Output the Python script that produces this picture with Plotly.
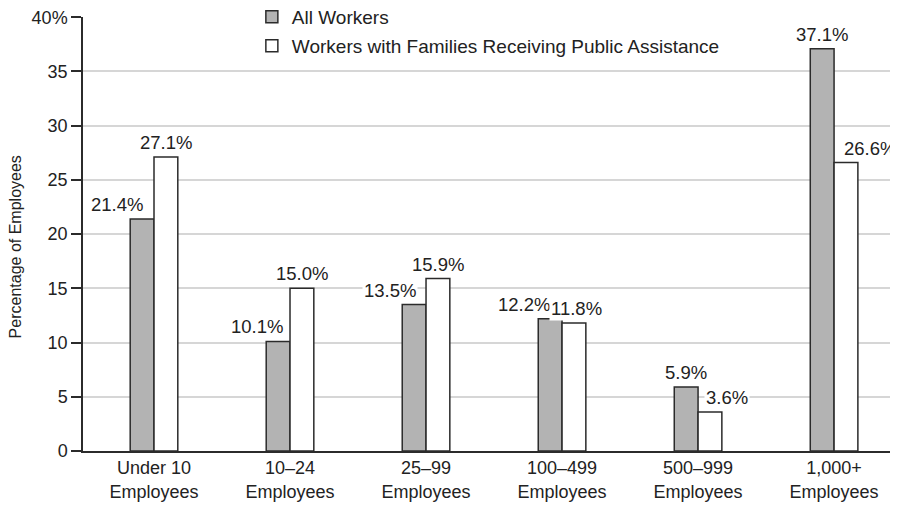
import plotly.graph_objects as go

categories = ["Under 10<br>Employees", "10\u201324<br>Employees", "25\u201399<br>Employees",
              "100\u2013499<br>Employees", "500\u2013999<br>Employees", "1,000+<br>Employees"]
all_workers = [21.4, 10.1, 13.5, 12.2, 5.9, 37.1]
public_assist = [27.1, 15.0, 15.9, 11.8, 3.6, 26.6]
series_names = ["All Workers", "Workers with Families Receiving Public Assistance"]
y_tickvals = [0, 5, 10, 15, 20, 25, 30, 35, 40]
y_ticktext = ["0", "5", "10", "15", "20", "25", "30", "35", "40%"]
y_title = "Percentage of Employees"

# label placement styles (xanchor, xshift px) per bar
all_label_style = [("right", -9), ("right", -5), ("right", -8), ("right", -10), ("center", -12), ("center", -12)]
pa_label_style = [("center", 12), ("center", 12), ("center", 12), ("center", 14), ("left", 6), ("left", 8)]

FONT = "Liberation Sans, Arial, Helvetica, sans-serif"
INK = "#222222"
EDGE = "#2b2b2b"

fig = go.Figure()
fig.add_trace(go.Bar(x=categories, y=all_workers, name=series_names[0], legend="legend",
                     marker=dict(color="#b3b3b3", line=dict(color=EDGE, width=1.5))))
fig.add_trace(go.Bar(x=categories, y=public_assist, name=series_names[1], legend="legend2",
                     marker=dict(color="#ffffff", line=dict(color=EDGE, width=1.5))))

annotations = []
for vals, styles in ((all_workers, all_label_style), (public_assist, pa_label_style)):
    for c, v, (xa, xs) in zip(categories, vals, styles):
        annotations.append(dict(x=c, y=v, xref="x", yref="y", text=f"{v:.1f}%",
                                showarrow=False, xanchor=xa, yanchor="bottom",
                                xshift=xs, yshift=2, bgcolor="white", borderpad=1,
                                font=dict(family=FONT, size=18.5, color=INK)))
annotations.append(dict(x=-0.083, y=0.47, xref="paper", yref="paper", text=y_title,
                        textangle=-90, showarrow=False, xanchor="center", yanchor="middle",
                        font=dict(family=FONT, size=16, color=INK)))

legend_common = dict(xref="container", yref="container", xanchor="left", yanchor="middle",
                     bgcolor="white", font=dict(family=FONT, size=19, color=INK))

fig.update_layout(
    width=890, height=499,
    margin=dict(l=75, r=0, t=9, b=56, autoexpand=False),
    paper_bgcolor="white", plot_bgcolor="white",
    barmode="group", bargap=0.65, bargroupgap=0,
    font=dict(family=FONT, size=18, color=INK),
    showlegend=True,
    legend=dict(x=0.274, y=0.982, **legend_common),
    legend2=dict(x=0.274, y=0.924, **legend_common),
    annotations=annotations,
)
fig.update_xaxes(showline=True, linecolor=EDGE, linewidth=1.5, ticks="", showgrid=False,
                 tickfont=dict(family=FONT, size=18, color=INK), range=[-0.522, 5.47],
                 ticklabeloverflow="allow")
fig.update_yaxes(range=[0, 40.02], tickvals=y_tickvals, ticktext=y_ticktext,
                 showline=True, linecolor=EDGE, linewidth=1.5,
                 ticks="outside", ticklen=10, tickwidth=1.5, tickcolor=EDGE,
                 showgrid=True, gridcolor="#d6d6d6", gridwidth=1.5, zeroline=False,
                 ticklabeloverflow="allow",
                 tickfont=dict(family=FONT, size=18, color=INK))

fig.write_html("out.html")
